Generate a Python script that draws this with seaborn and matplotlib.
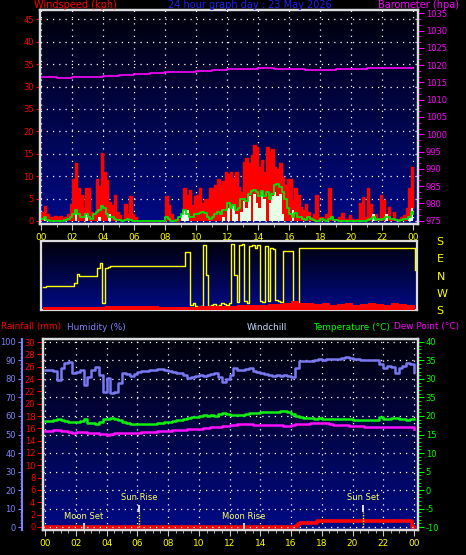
import numpy as np
import matplotlib
matplotlib.use("Agg")
import matplotlib.pyplot as plt
import seaborn as sns
from matplotlib.colors import LinearSegmentedColormap
from matplotlib.ticker import MultipleLocator, FixedLocator, FuncFormatter

plt.rcParams["font.family"] = ["DejaVu Sans"]
plt.rcParams["axes.unicode_minus"] = False

# -------------------
# Wind, 10 minute samples from 00:00 to 24:00
# -------------------
gust_kph = [
    1.9, 3.4, 1.5, 0.8, 1.0, 1.2,
    0.8, 1.2, 0.6, 1.0, 1.5, 3.9,
    9.3, 12.9, 7.3, 5.8, 3.0, 7.3,
    7.3, 2.0, 1.5, 9.3, 7.7, 15.1,
    11.0, 9.2, 4.3, 3.5, 5.8, 2.0,
    1.3, 0.5, 3.9, 1.5, 5.6, 1.5,
    1.0, 0.0, 0.0, 0.0, 0.0, 0.0,
    0.0, 0.0, 0.0, 0.0, 0.0, 0.0,
    5.6, 3.5, 1.5, 0.5, 0.0, 0.5,
    1.0, 7.3, 5.8, 7.0, 3.5, 5.5,
    5.8, 7.3, 4.0, 5.0, 5.0, 7.3,
    7.3, 8.0, 9.3, 8.0, 9.0, 11.0,
    10.5, 11.0, 9.5, 11.0, 7.5, 6.5,
    13.2, 14.0, 13.0, 14.7, 17.0, 16.6,
    12.0, 13.5, 11.0, 16.6, 15.5, 16.0,
    12.0, 11.5, 12.9, 9.9, 8.0, 9.3,
    9.3, 4.7, 7.4, 5.8, 3.2, 2.5,
    3.9, 2.1, 1.0, 1.5, 5.8, 1.0,
    1.0, 0.5, 1.5, 7.3, 1.0, 0.5,
    0.5, 1.0, 1.7, 0.5, 0.5, 1.3,
    0.5, 0.0, 0.5, 4.0, 5.4, 1.0,
    7.3, 3.9, 1.0, 1.5, 0.5, 5.8,
    4.7, 1.5, 3.2, 0.5, 2.0, 0.5,
    0.5, 0.8, 1.3, 3.0, 7.3, 12.1,
    3.0,
]
wind_avg = [
    0.5, 1.0, 0.3, 0.0, 0.0, 0.0,
    0.0, 0.0, 0.0, 0.3, 0.5, 0.8,
    1.5, 2.5, 1.5, 1.0, 1.0, 1.5,
    1.0, 0.5, 1.5, 2.0, 2.5, 3.3,
    3.0, 1.5, 1.0, 1.0, 0.5, 0.3,
    0.2, 0.0, 0.3, 0.5, 0.3, 0.0,
    0.0, 0.0, 0.0, 0.0, 0.0, 0.0,
    0.0, 0.0, 0.0, 0.0, 0.0, 0.0,
    0.8, 0.5, 0.0, 0.0, 0.3, 0.8,
    1.5, 2.5, 1.5, 0.8, 1.0, 1.5,
    1.5, 1.8, 2.0, 1.8, 1.0, 0.5,
    1.0, 1.5, 2.0, 1.5, 2.5, 2.5,
    4.0, 3.0, 3.5, 2.5, 3.0, 4.8,
    5.0, 4.5, 6.0, 6.8, 7.0, 6.5,
    5.5, 6.8, 5.5, 6.5, 5.0, 6.0,
    8.0, 8.2, 7.5, 6.5, 5.0, 3.0,
    1.5, 1.0, 1.8, 1.0, 0.8, 0.5,
    0.3, 0.8, 0.5, 0.3, 0.0, 0.0,
    0.5, 0.3, 0.0, 0.5, 0.8, 0.3,
    0.3, 0.0, 0.0, 0.0, 0.0, 0.0,
    0.0, 0.0, 0.0, 0.0, 0.0, 0.0,
    0.3, 0.5, 0.8, 0.3, 0.5, 0.3,
    0.5, 1.0, 0.8, 0.5, 0.5, 0.3,
    0.0, 0.3, 0.5, 0.5, 1.0, 2.0,
    1.5,
]
wind_now = [
    0.0, 1.0, 0.0, 0.0, 0.0, 0.0,
    0.0, 0.0, 0.0, 0.0, 0.0, 0.0,
    0.0, 1.5, 0.0, 0.0, 0.0, 1.5,
    0.0, 0.0, 0.0, 0.0, 1.0, 0.0,
    0.0, 0.0, 1.5, 0.0, 0.0, 0.0,
    0.0, 0.0, 0.0, 0.0, 0.0, 0.0,
    0.0, 0.0, 0.0, 0.0, 0.0, 0.0,
    0.0, 0.0, 0.0, 0.0, 0.0, 0.0,
    0.0, 0.0, 0.0, 0.0, 0.0, 0.0,
    1.5, 2.5, 2.5, 0.0, 0.0, 0.0,
    0.0, 0.0, 0.0, 0.0, 0.0, 0.0,
    0.0, 0.0, 0.0, 0.0, 1.0, 0.0,
    3.0, 0.0, 3.5, 1.5, 0.0, 2.0,
    4.5, 3.0, 5.5, 0.0, 6.0, 4.0,
    3.0, 6.5, 5.0, 0.0, 4.0, 5.5,
    6.5, 5.5, 6.0, 1.5, 0.0, 0.0,
    0.0, 2.5, 0.0, 0.0, 0.0, 0.0,
    0.0, 0.0, 0.0, 0.0, 0.0, 0.0,
    0.0, 0.0, 0.0, 0.0, 0.0, 0.0,
    0.0, 0.0, 0.0, 0.0, 0.0, 0.0,
    0.0, 0.0, 0.0, 0.0, 0.0, 0.0,
    0.0, 0.0, 1.5, 0.0, 0.0, 0.0,
    0.0, 1.5, 0.0, 0.0, 0.0, 0.0,
    0.0, 0.0, 0.0, 0.0, 1.0, 3.0,
    0.0,
]
# compass degrees, 10 minute samples
wind_dir = (
    [298] + [305] * 11
    + [322, 7] + [356] * 7
    + [37, 64, 216, 40, 45, 50] + [50] * 28
    + [124, 124, 205, 215, 200, 197, 200, 159, 2, 200]
    + [205, 210, 200, 205, 215, 210, 205]
    + [215, 163, 2, 220, 160, 163, 225, 215, 152, 159, 145, 159,
       225, 220, 152, 225, 145, 138, 230, 225, 220]
    + [128] * 4 + [210, 205] + [142] * 45 + [30]
)
# wind trace along the bottom of the direction strip, 30 minute samples
dir_band = [2.5, 2.5, 3, 2.5, 3, 3, 2.5, 3, 3.5,
            3.5, 4, 3.5, 4, 3.5, 3.5, 3, 3,
            2.5, 2.5, 3, 3.5,
            3.5, 4, 3.5, 4,
            4.5, 5, 4.5, 5, 5.5, 5.5,
            6.5, 8.5, 7, 7,
            5.5, 6.5, 5, 6, 6.5, 5, 6, 6.5, 5.5, 5, 6.5, 5.5, 5, 5.5]

# barometer, hourly
baro_hpa = [1016.6, 1016.4, 1016.6, 1016.7, 1016.9, 1017.1, 1017.4, 1017.6,
            1017.9, 1018.1, 1018.3, 1018.6, 1018.8, 1019.0, 1019.1, 1019.0,
            1018.9, 1018.7, 1018.7, 1018.8, 1019.0, 1019.2, 1019.3, 1019.3,
            1019.3]

# -------------------
# Humidity / temperature / dew point, 15 minute samples
# -------------------
humidity = [
    85, 85, 84.3, 79.5, 86, 88.5, 89, 83,
    84, 85, 76.5, 81, 85, 86.7, 82, 73,
    80.4, 72.3, 73, 78, 83, 82.5, 81.5, 82.5,
    84, 84.3, 84.5, 85, 85, 85.3, 85.5, 85,
    84.5, 84, 83.2, 83, 82, 80.5, 81, 81.5,
    82, 81.8, 82.3, 82.5, 83, 81, 78.2, 80,
    82, 85.8, 85, 84.8, 85.3, 85.8, 84.5, 83.5,
    83, 82.5, 82, 81.8, 82, 81.8, 82, 81.5,
    81.3, 86, 89.7, 89.7, 89.5, 89.9, 90.3, 90.8,
    90.5, 90.6, 90.8, 90.8, 91, 91.2, 91.8, 91.5,
    90.8, 90.8, 90.3, 90.3, 90.3, 90.3, 90.3, 88,
    86, 87.2, 86.5, 83, 85.8, 87, 88.5, 88,
    84,
]
temperature = [
    18.6, 18.6, 18.8, 19.1, 18.9, 18.7, 18.5, 18.4,
    18.4, 18.6, 19.3, 18.2, 18.0, 17.8, 18.4, 19.2,
    19.3, 19.5, 19.3, 18.8, 18.4, 18.2, 17.9, 17.8,
    17.8, 17.75, 17.8, 17.85, 17.9, 18.0, 18.1, 18.3,
    18.5, 18.7, 18.9, 19.0, 19.2, 19.4, 19.6, 19.8,
    20.0, 20.3, 20.0, 20.2, 20.1, 20.5, 20.9, 20.6,
    20.4, 20.3, 20.2, 20.3, 20.6, 20.9, 20.8, 20.9,
    21.0, 21.1, 21.0, 21.2, 21.2, 21.3, 21.4, 21.0,
    20.6, 19.9, 19.6, 19.5, 19.4, 19.4, 19.3, 19.4,
    19.3, 19.3, 19.2, 19.3, 19.2, 19.2, 19.1, 19.2,
    19.0, 19.0, 18.9, 18.9, 18.9, 18.9, 19.0, 19.6,
    19.2, 19.3, 19.4, 19.5, 19.2, 19.1, 19.0, 19.1,
    19.2,
]
dew_point = [
    15.9, 16.0, 16.2, 16.1, 16.0, 15.9, 15.8, 15.5,
    15.6, 15.7, 15.8, 15.5, 15.3, 15.4, 15.2, 15.1,
    15.0, 15.2, 15.3, 15.3, 15.3, 15.4, 15.4, 15.5,
    15.5, 15.6, 15.6, 15.7, 15.8, 15.9, 15.9, 16.0,
    16.0, 16.1, 16.2, 16.2, 16.3, 16.4, 16.5, 16.6,
    16.6, 16.7, 16.8, 16.9, 17.0, 17.1, 17.3, 17.4,
    17.5, 17.6, 17.8, 17.8, 17.9, 17.8, 17.7, 17.6,
    17.6, 17.6, 17.7, 17.6, 17.6, 17.5, 17.4, 17.4,
    17.6, 17.8, 17.8, 17.9, 17.9, 18.0, 18.0, 18.0,
    18.0, 18.1, 17.8, 17.7, 17.6, 17.6, 17.5, 17.4,
    17.4, 17.3, 17.2, 17.1, 17.1, 17.1, 17.1, 17.1,
    17.1, 17.1, 17.0, 17.1, 17.1, 17.1, 17.0, 16.9,
    16.6,
]
rain_hours = [0.0, 16.3, 16.45, 16.55, 17.7, 23.85, 24.0]
rain_mm = [0.0, 0.2, 0.5, 0.7, 0.9, 0.0, 0.0]

event_names = ["Moon Set", "Sun Rise", "Moon Rise", "Sun Set"]
event_hours = [2.5, 6.1, 12.95, 20.7]

compass_labels = ["S", "W", "N", "E", "S"]
# speed / temperature labels as printed on the original chart
wind_labels = ["0", "5", "10", "15", "20", "35", "30", "35", "40", "45"]
temp_labels = ["-10", "-5", "0", "5", "10", "15", "20", "35", "30", "35", "40"]

t10 = np.arange(len(gust_kph)) / 6
t30 = np.arange(len(dir_band)) / 2
t15 = np.arange(len(humidity)) / 4
t60 = np.arange(len(baro_hpa))

# -------------------
# Figure
# -------------------
W, H = 466, 555
fig = plt.figure(figsize=(W / 100, H / 100), dpi=100, facecolor="black")


def place(l, t, r, b):
    return [l / W, 1 - b / H, (r - l) / W, (b - t) / H]


bg = LinearSegmentedColormap.from_list("bg", ["#00000a", "#000a86"])
frame = "#dcdcdc"
hour_fmt = FuncFormatter(lambda v, pos: f"{int(round(v)) % 24:02d}")
dots = (0, (1, 4))
tick_fs = 6


def paint(ax):
    ax.set_facecolor("black")
    ax.imshow(np.linspace(0, 1, 256).reshape(-1, 1), cmap=bg, aspect="auto",
              extent=[0, 1, 0, 1], transform=ax.transAxes, zorder=0)
    for s in ax.spines.values():
        s.set_color(frame)
        s.set_linewidth(1.6)


def hour_axis(ax, minor):
    ax.xaxis.set_major_locator(MultipleLocator(2))
    ax.xaxis.set_minor_locator(MultipleLocator(minor))
    ax.xaxis.set_major_formatter(hour_fmt)
    ax.tick_params(axis="x", which="both", colors="#c8c8c8", labelcolor="yellow",
                   labelsize=6.5, pad=2.5)
    ax.tick_params(axis="x", which="major", length=4)
    ax.tick_params(axis="x", which="minor", length=2)


# Top: wind speed + barometer
ax_w = fig.add_axes(place(40, 10, 418, 224))
paint(ax_w)
ax_w.fill_between(t10, gust_kph, step="post", color="#ff0000", lw=0, zorder=2)
sns.lineplot(x=t10, y=gust_kph, ax=ax_w, color="#ff0000", lw=1,
             drawstyle="steps-post", estimator=None, zorder=2)
ax_w.fill_between(t10, wind_now, step="post", color="#e6ffe6", lw=0, zorder=3)
sns.lineplot(x=t10, y=wind_avg, ax=ax_w, color="#00e400", lw=1.3,
             drawstyle="steps-post", estimator=None, zorder=4)
ax_w.set_xlim(-0.08, 24.3)
ax_w.set_ylim(-0.67, 47.07)
ax_w.yaxis.set_major_locator(FixedLocator(range(0, 50, 5)))
ax_w.set_yticklabels(wind_labels)
ax_w.tick_params(axis="y", colors="red", labelsize=tick_fs, length=3, pad=1.5)
hour_axis(ax_w, 1)
ax_w.grid(True, color="white", ls=dots, lw=0.9)
ax_w.set_axisbelow(True)

ax_b = ax_w.twinx()
sns.lineplot(x=t60, y=baro_hpa, ax=ax_b, color="#ff00ff", lw=1.2,
             drawstyle="steps-post", estimator=None)
ax_b.set_ylim(974.05, 1035.95)
ax_b.yaxis.set_major_locator(MultipleLocator(5))
ax_b.yaxis.set_minor_locator(MultipleLocator(5 / 3))
ax_b.tick_params(axis="y", which="both", colors="#ff00ff", labelsize=tick_fs, pad=1.5)
ax_b.tick_params(axis="y", which="major", length=4)
ax_b.tick_params(axis="y", which="minor", length=2)
for s in ax_b.spines.values():
    s.set_color(frame)
    s.set_linewidth(1.6)

# Middle: wind direction
ax_d = fig.add_axes(place(41, 241, 417, 310))
paint(ax_d)
dir_plot = [d + 360 if d < 180 else d for d in wind_dir]
sns.lineplot(x=t10, y=dir_plot, ax=ax_d, color="#ffff00", lw=1,
             drawstyle="steps-post", estimator=None, zorder=3)
ax_d.set_xlim(-0.13, 24.15)
ax_d.set_ylim(180, 540)

ax_dw = ax_d.twinx()
ax_dw.fill_between(t30, dir_band, step="post", color="#ff0000", lw=0)
ax_dw.set_ylim(0, 69)
ax_dw.set_yticks([])
for s in ax_dw.spines.values():
    s.set_visible(False)

ax_d.set_xticks([])
ax_d.yaxis.tick_right()
ax_d.yaxis.set_major_locator(FixedLocator([180, 270, 360, 450, 540]))
ax_d.set_yticklabels(compass_labels)
ax_d.tick_params(axis="y", length=0, pad=14, labelsize=8, labelcolor="#ffff00")

# Bottom: rain, humidity, temperature
ax_r = fig.add_axes(place(43, 339, 418, 530))
paint(ax_r)
sns.lineplot(x=rain_hours, y=rain_mm, ax=ax_r, color="#ff0000", lw=2.6,
             drawstyle="steps-post", estimator=None, zorder=3)
ax_r.set_xlim(-0.14, 24.26)
ax_r.set_ylim(-0.49, 30.49)
ax_r.yaxis.set_major_locator(MultipleLocator(2))
ax_r.yaxis.set_minor_locator(MultipleLocator(1))
ax_r.tick_params(axis="y", which="both", colors="red", labelsize=tick_fs, pad=1.5)
ax_r.tick_params(axis="y", which="major", length=4)
ax_r.tick_params(axis="y", which="minor", length=2)
hour_axis(ax_r, 0.5)
ax_r.grid(True, axis="x", color="white", ls=dots, lw=0.9)
ax_r.set_axisbelow(True)

for name, hr in zip(event_names, event_hours):
    if name.startswith("Sun"):
        ax_r.vlines(hr, 2.4, 3.6, color="white", lw=1.2, zorder=4)
        ax_r.vlines(hr, 0, 2.4, color="#ffff00", lw=1, ls=(0, (1, 1)), zorder=4)
        ax_r.text(hr, 4.75, name, color="#ffff60", fontsize=6, ha="center", va="center")
    else:
        ax_r.vlines(hr, -0.5, 0.7, color="white", lw=1.2, zorder=4)
        ax_r.text(hr, 1.7, name, color="#ffff60", fontsize=6, ha="center", va="center")

ax_h = ax_r.twinx()
sns.lineplot(x=t15, y=humidity, ax=ax_h, color="#7878f0", lw=1.8,
             drawstyle="steps-post", estimator=None)
ax_h.set_ylim(-1.6, 101.6)
ax_h.yaxis.set_major_locator(MultipleLocator(10))
ax_h.yaxis.set_minor_locator(MultipleLocator(2))
ax_h.yaxis.tick_left()
ax_h.spines["left"].set_position(("outward", 15))
ax_h.spines["left"].set_color("#8080ff")
ax_h.spines["left"].set_linewidth(1.5)
ax_h.spines["right"].set_visible(False)
ax_h.spines["top"].set_visible(False)
ax_h.spines["bottom"].set_visible(False)
ax_h.tick_params(axis="y", which="both", colors="#8080ff", labelsize=tick_fs, pad=1.5)
ax_h.tick_params(axis="y", which="major", length=3)
ax_h.tick_params(axis="y", which="minor", length=1.5)
ax_h.grid(True, axis="y", color="white", ls=dots, lw=0.9)
ax_h.set_axisbelow(True)

ax_c = ax_r.twinx()
sns.lineplot(x=t15, y=temperature, ax=ax_c, color="#10f010", lw=1.8,
             drawstyle="steps-post", estimator=None)
sns.lineplot(x=t15, y=dew_point, ax=ax_c, color="#ff10ff", lw=1.8,
             drawstyle="steps-post", estimator=None)
ax_c.set_ylim(-10.81, 40.81)
ax_c.yaxis.set_major_locator(FixedLocator(range(-10, 45, 5)))
ax_c.set_yticklabels(temp_labels)
ax_c.yaxis.set_minor_locator(MultipleLocator(1))
ax_c.tick_params(axis="y", which="both", colors="#00ff00", labelsize=tick_fs, pad=1.5)
ax_c.tick_params(axis="y", which="major", length=4)
ax_c.tick_params(axis="y", which="minor", length=2)
for s in ax_c.spines.values():
    s.set_color(frame)
    s.set_linewidth(1.6)

for ax in [ax_w, ax_b, ax_d, ax_dw, ax_r, ax_h, ax_c]:
    ax.set_xlabel("")
    ax.set_ylabel("")

# Headers
ty = 1 - 5 / H
fig.text(75 / W, ty, "Windspeed (kph)", color="#ff0000", fontsize=7, ha="center", va="center")
fig.text(250 / W, ty, "24 hour graph day : 23 May 2026", color="#1e1eff", fontsize=7,
         ha="center", va="center")
fig.text(418 / W, ty, "Barometer (hpa)", color="#ff00ff", fontsize=7, ha="center", va="center")

by = 1 - 327 / H
fig.text(1 / W, by, "Rainfall (mm)", color="#ff0000", fontsize=6.4, ha="left", va="center")
fig.text(67 / W, by, "Humidity (%)", color="#8080ff", fontsize=6.4, ha="left", va="center")
fig.text(247 / W, by, "Windchill", color="#c8d8ff", fontsize=6.4, ha="left", va="center")
fig.text(313 / W, by, "Temperature (°C)", color="#00ff00", fontsize=6.4, ha="left", va="center")
fig.text(394 / W, by, "Dew Point (°C)", color="#ff00ff", fontsize=6.4, ha="left", va="center")

fig.savefig("out.png", dpi=100, facecolor="black")
